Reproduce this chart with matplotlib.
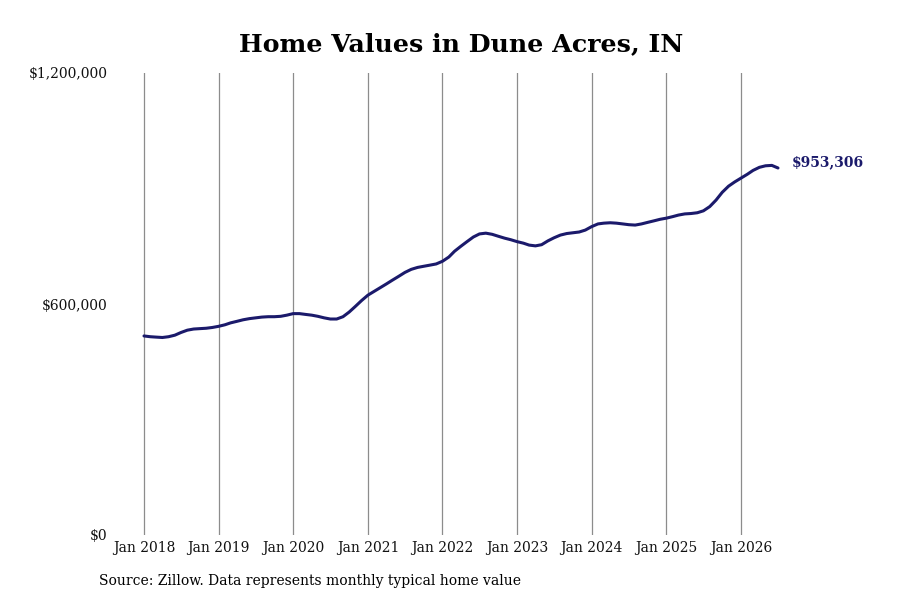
import matplotlib
matplotlib.use("Agg")
import matplotlib.pyplot as plt
import matplotlib.dates as mdates
import pandas as pd

# ── Data: monthly typical home value, Jan 2018 – Jul 2026 ─────────────────
start_month = "2018-01-01"
values_k = [
    # 2018
    517, 515, 514, 513, 515, 519, 526, 532, 535, 536, 537, 539,
    # 2019
    542, 546, 551, 555, 559, 562, 564, 566, 567, 567, 568, 571,
    # 2020
    575, 575, 573, 571, 568, 564, 561, 561, 567, 579, 594, 609,
    # 2021
    623, 633, 642, 652, 662, 672, 682, 690, 695, 698, 701, 704,
    # 2022
    711, 722, 737, 750, 762, 774, 782, 784, 781, 776, 771, 767,
    # 2023
    762, 758, 753, 751, 754, 764, 772, 779, 783, 785, 787, 792,
    # 2024
    801, 808, 810, 811, 810, 808, 806, 805, 808, 812, 816, 820,
    # 2025
    823, 827, 831, 834, 835, 837, 842, 853, 870, 890, 906, 917,
    # 2026
    927, 937, 947, 955, 959, 960, 953.306,
]
y_ticks = [0, 600000, 1200000]
y_tick_labels = ["$0", "$600,000", "$1,200,000"]
last_label = "$953,306"

dates = pd.date_range(start_month, periods=len(values_k), freq="MS")
values = [v * 1000 for v in values_k]

C_LINE = "#1b1a6b"
C_GRID = "#8c8c8c"

plt.rcParams["font.family"] = ["DejaVu Serif"]

fig = plt.figure(figsize=(9, 6), dpi=100)
ax = fig.add_axes([120 / 900, 1 - 535 / 600, (792 - 120) / 900, (535 - 73) / 600])

ax.plot(dates, values, color=C_LINE, lw=2.2, solid_capstyle="round")

# x range: left edge ~3.9 months before Jan 2018, right edge ~104 months after
d0 = mdates.date2num(pd.Timestamp("2018-01-01"))
d1 = mdates.date2num(pd.Timestamp("2026-01-01"))
px_per_day = (741 - 144) / (d1 - d0)
ax.set_xlim(d0 - (144 - 120) / px_per_day, d0 + (792 - 144) / px_per_day)
ax.set_ylim(0, 1200000)

ax.xaxis.set_major_locator(mdates.YearLocator())
ax.xaxis.set_major_formatter(mdates.DateFormatter("%b %Y"))
ax.set_yticks(y_ticks)
ax.set_yticklabels(y_tick_labels)

ax.grid(axis="x", color=C_GRID, lw=0.9)
ax.grid(axis="y", visible=False)
ax.set_axisbelow(True)
for s in ax.spines.values():
    s.set_visible(False)
ax.tick_params(axis="both", length=0, labelsize=10, colors="#111111")
ax.tick_params(axis="x", pad=4)
ax.tick_params(axis="y", pad=9)

# end-point value label
ax.annotate(last_label, xy=(dates[-1], values[-1]), xytext=(10, 4),
            textcoords="offset points", ha="left", va="center",
            fontsize=10, fontweight="bold", color=C_LINE)

fig.text(461 / 900, 1 - 44 / 600, "Home Values in Dune Acres, IN",
         ha="center", va="center", fontsize=18.2, fontweight="bold")
fig.text(99 / 900, 1 - 581 / 600,
         "Source: Zillow. Data represents monthly typical home value",
         ha="left", va="center", fontsize=10)

fig.savefig("out.png", dpi=100)
